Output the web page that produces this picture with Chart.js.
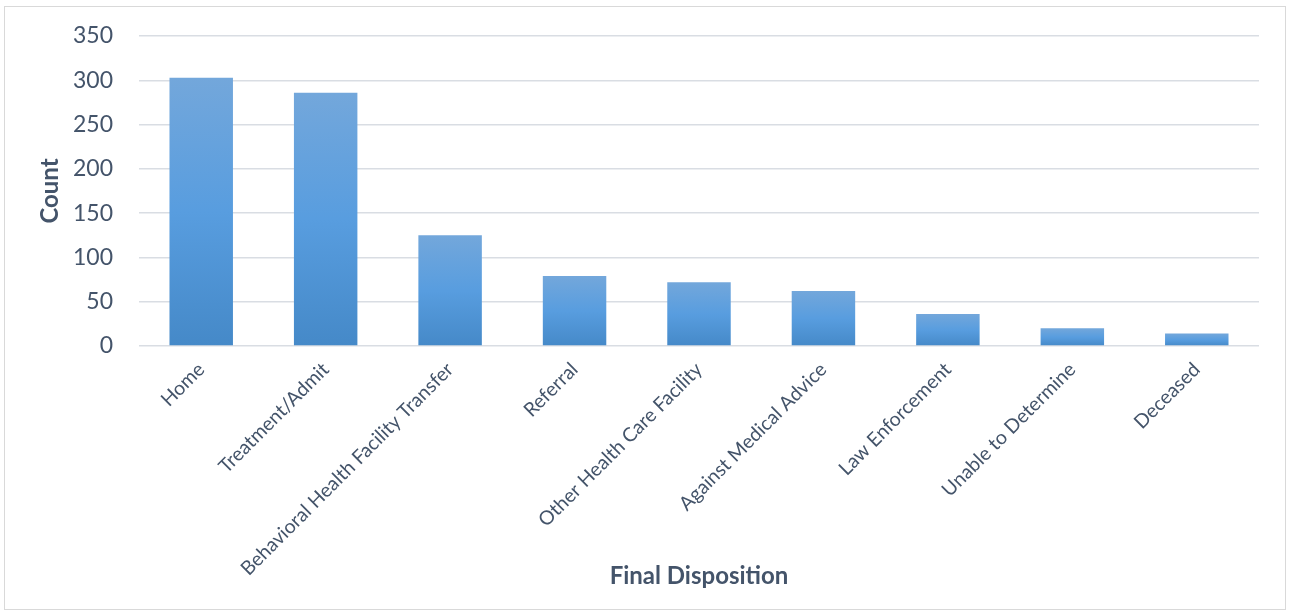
<!DOCTYPE html>
<html>
<head>
<meta charset="utf-8">
<script src="https://cdn.jsdelivr.net/npm/chart.js@4"></script>
<style>
  html, body { margin: 0; padding: 0; background: #ffffff; }
  #wrap { position: relative; width: 1290px; height: 613px; }
</style>
</head>
<body>
<div id="wrap"><canvas id="chart" width="1290" height="613"></canvas></div>
<script>
// Final disposition counts
const categories = [
  'Home',
  'Treatment/Admit',
  'Behavioral Health Facility Transfer',
  'Referral',
  'Other Health Care Facility',
  'Against Medical Advice',
  'Law Enforcement',
  'Unable to Determine',
  'Deceased'
];
const counts = [303, 286, 125, 79, 72, 62, 36, 20, 14];
const yTicks = [0, 50, 100, 150, 200, 250, 300, 350];

const textColor = '#44546A';
const gridColor = '#D9DDE3';
const fontFamily = 'Lato, "Open Sans", sans-serif';

// Vertical gradient per bar, light at the top, darker at the base
function barFill(ctx) {
  const chart = ctx.chart;
  const y = chart.scales && chart.scales.y;
  if (ctx.type !== 'data' || !y) return '#5B9BD5';
  const top = y.getPixelForValue(ctx.raw);
  const base = y.getPixelForValue(0);
  if (!isFinite(top) || !isFinite(base) || top === base) return '#5B9BD5';
  const g = chart.ctx.createLinearGradient(0, top, 0, base);
  g.addColorStop(0, '#73A7DB');
  g.addColorStop(0.5, '#589DDF');
  g.addColorStop(1, '#4589C8');
  return g;
}

// Thin frame round the whole chart
const frame = {
  id: 'frame',
  beforeDraw(chart) {
    const c = chart.ctx;
    c.save();
    c.strokeStyle = '#D9D9D9';
    c.lineWidth = 1;
    c.strokeRect(4.5, 6.5, 1281, 603);
    c.restore();
  }
};

new Chart(document.getElementById('chart'), {
  type: 'bar',
  data: {
    labels: categories,
    datasets: [{
      data: counts,
      backgroundColor: barFill,
      borderWidth: 0,
      barPercentage: 0.51,
      categoryPercentage: 1
    }]
  },
  options: {
    responsive: false,
    animation: false,
    devicePixelRatio: 1,
    layout: { padding: { top: 36, right: 31, bottom: 0, left: 0 } },
    plugins: {
      legend: { display: false },
      tooltip: { enabled: false }
    },
    scales: {
      x: {
        grid: { display: false, drawTicks: false },
        border: { display: false },
        ticks: {
          color: textColor,
          font: { family: fontFamily, size: 19.5 },
          minRotation: 45,
          maxRotation: 45,
          autoSkip: false,
          padding: 12
        },
        title: {
          display: true,
          text: 'Final Disposition',
          color: textColor,
          font: { family: fontFamily, size: 24, weight: 'bold' },
          padding: { top: 22, bottom: 22 }
        },
        afterFit(scale) { scale.height = 267; }
      },
      y: {
        min: 0,
        max: 350,
        afterBuildTicks(scale) { scale.ticks = yTicks.map(v => ({ value: v })); },
        grid: { color: gridColor, lineWidth: 1.5, drawTicks: false },
        border: { display: false },
        ticks: {
          color: textColor,
          font: { family: fontFamily, size: 23 },
          padding: 26
        },
        title: {
          display: true,
          text: 'Count',
          color: textColor,
          font: { family: fontFamily, size: 24, weight: 'bold' },
          padding: { top: 36, bottom: 36 }
        },
        afterFit(scale) {
          scale.width = 139;
          scale.paddingTop = 0;
          scale.paddingBottom = 0;
        }
      }
    }
  },
  plugins: [frame]
});
</script>
</body>
</html>
